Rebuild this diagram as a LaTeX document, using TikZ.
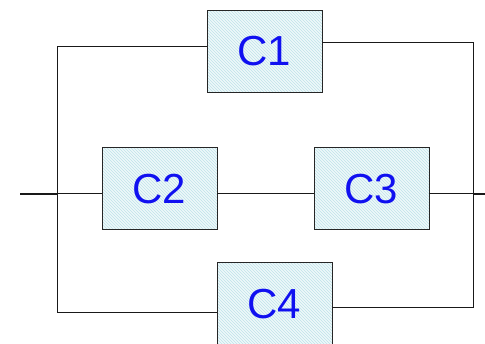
\documentclass[tikz,border=0pt]{standalone}
\usepackage{fontspec}
\setmainfont{Liberation Sans}
\usetikzlibrary{patterns}
\definecolor{boxfill}{HTML}{EEF8FA}
\definecolor{hatch}{HTML}{BFE3EA}
\definecolor{labelblue}{HTML}{1010F0}
\tikzset{
  comp/.style={draw=black!85, line width=1pt, minimum width=115pt, minimum height=82pt,
    inner sep=0pt, outer sep=0pt, font=\fontsize{42}{42}\selectfont, text=labelblue,
    preaction={fill=boxfill}, preaction={pattern=north west lines, pattern color=hatch}},
  wire/.style={line width=1pt, draw=black!90},
  lead/.style={line width=2pt, draw=black!90}
}
\begin{document}
\begin{tikzpicture}[x=1pt,y=-1pt]
\useasboundingbox (0,0) rectangle (485,344);
\clip (0,0) rectangle (485,344);
\node[comp] (c1) at (264.5,51.5) {C1};
\node[comp] (c2) at (159.5,189) {C2};
\node[comp] (c3) at (371.5,189) {C3};
\node[comp] (c4) at (274.5,304) {C4};
\coordinate (in) at (20,194);
\coordinate (lm) at (57,194);
\coordinate (rm) at (473,194);
\coordinate (out) at (485,194);
\coordinate (l1) at (57,47);
\coordinate (l4) at (57,313);
\coordinate (r1) at (473,43);
\coordinate (r4) at (473,308);
\draw[lead] (in) -- (lm);
\draw[lead] (rm) -- (out);
\draw[wire] (l1 -| c1.west) -- (l1) -- (l4) -- (l4 -| c4.west);
\draw[wire] (r1 -| c1.east) -- (r1) -- (r4) -- (r4 -| c4.east);
\draw[wire] (lm) -- (lm -| c2.west);
\draw[wire] (lm -| c2.east) -- (lm -| c3.west);
\draw[wire] (rm -| c3.east) -- (rm);
\end{tikzpicture}
\end{document}
